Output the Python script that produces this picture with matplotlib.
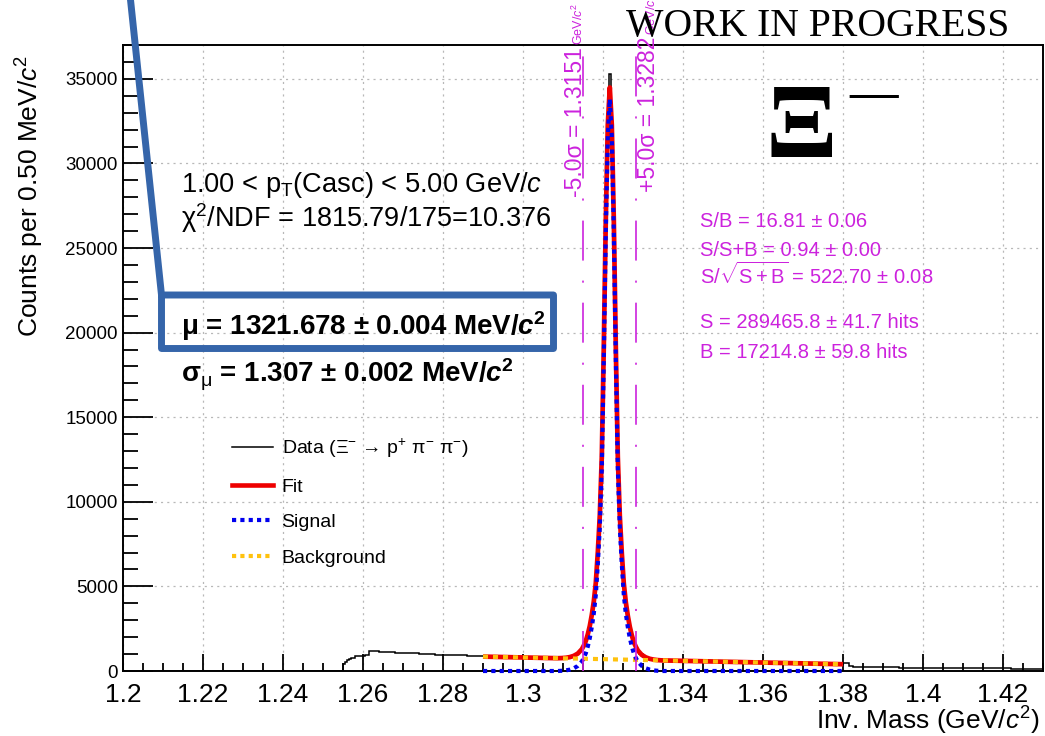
import matplotlib
matplotlib.use("Agg")
import matplotlib.pyplot as plt
from matplotlib.lines import Line2D
import numpy as np

# ---------------- data ----------------
# data histogram: variable-width bin edges (GeV) and counts
data_edges = [1.2000, 1.2550, 1.2555, 1.2560, 1.2565, 1.2570, 1.2580, 1.2590, 1.2600, 1.2605,
              1.2615, 1.2620, 1.2640, 1.2660, 1.2680, 1.2700, 1.2720, 1.2740, 1.2760, 1.2780,
              1.2800, 1.2820, 1.2840, 1.2860, 1.2880, 1.2900,
              1.2920, 1.2940, 1.2960, 1.2980, 1.3000, 1.3020, 1.3040, 1.3060, 1.3080, 1.3100,
              1.3105, 1.3110, 1.3115, 1.3120, 1.3125, 1.3130, 1.3135, 1.3140, 1.3145, 1.3150,
              1.3155, 1.3160, 1.3165, 1.3170, 1.3175, 1.3180, 1.3185, 1.3190, 1.3195, 1.3200,
              1.3205, 1.3210, 1.3215, 1.3220, 1.3225, 1.3230, 1.3235, 1.3240, 1.3245, 1.3250,
              1.3255, 1.3260, 1.3265, 1.3270, 1.3275, 1.3280, 1.3285, 1.3290,
              1.3300, 1.3310, 1.3320, 1.3330, 1.3340,
              1.3360, 1.3380, 1.3400, 1.3420, 1.3440, 1.3460, 1.3480, 1.3500, 1.3520, 1.3540,
              1.3560, 1.3580, 1.3600, 1.3620, 1.3640, 1.3660, 1.3680, 1.3700, 1.3720, 1.3740,
              1.3760, 1.3780, 1.3800,
              1.3815, 1.3825, 1.3860, 1.3900, 1.3940, 1.3980, 1.4020, 1.4060, 1.4100, 1.4140,
              1.4180, 1.4220, 1.4260, 1.4300]
data_counts = [0, 430, 550, 640, 720, 760, 860, 900, 860, 930,
               1180, 1200, 1150, 1140, 1090, 1075, 1040, 1020, 985, 975,
               950, 945, 930, 910, 880,
               860, 835, 842, 820, 808, 798, 790, 782, 768, 775,
               790, 800, 820, 840, 870, 910, 975, 1050, 1170, 1320,
               1540, 1830, 2230, 2750, 3420, 4270, 5420, 7300, 9700, 13500,
               20200, 27400, 32900, 35300, 31900, 25900, 18500, 12300, 8900, 6780,
               5030, 3980, 3180, 2560, 2080, 1690, 1420, 1210,
               1000, 840, 745, 690, 660,
               640, 628, 615, 605, 598, 582, 575, 560, 548, 545,
               530, 518, 510, 495, 488, 480, 468, 455, 448, 438,
               425, 418, 405,
               480, 300, 250, 225, 215, 205, 200, 185, 175, 165,
               160, 150, 145, 140]

# fit curves (GeV, counts)
curve_x = [1.2900, 1.3000, 1.3067, 1.3087, 1.3097, 1.3107, 1.3117, 1.3127, 1.3137, 1.3147,
           1.3152, 1.3157, 1.3162, 1.3167, 1.3172, 1.3177, 1.3182, 1.3187, 1.3192, 1.3197,
           1.3202, 1.3207, 1.3212, 1.3217, 1.3222, 1.3227, 1.3232, 1.3237, 1.3242, 1.3247,
           1.3252, 1.3257, 1.3262, 1.3267, 1.3272, 1.3277, 1.3282, 1.3287, 1.3297, 1.3307,
           1.3317, 1.3327, 1.3337, 1.3347, 1.3400, 1.3500, 1.3600, 1.3700, 1.3800]
signal_y = [0, 0, 0, 0, 12, 35, 80, 160, 300, 560,
            780, 1050, 1450, 1950, 2600, 3400, 4500, 6300, 8500, 12000,
            18500, 26000, 31600, 33800, 31600, 26000, 18500, 12000, 8500, 6300,
            4500, 3400, 2600, 1950, 1450, 1050, 780, 560, 300, 160,
            80, 35, 12, 0, 0, 0, 0, 0, 0]
fit_y = [850, 800, 766, 756, 764, 781, 821, 896, 1031, 1286,
         1504, 1771, 2169, 2666, 3314, 4111, 5209, 7006, 9204, 12701,
         19199, 26696, 32294, 34491, 32289, 26686, 19184, 12681, 9179, 6976,
         5174, 4071, 3269, 2616, 2114, 1711, 1439, 1216, 951, 806,
         721, 671, 643, 626, 600, 550, 500, 450, 400]
bg_x = [1.29, 1.30, 1.31, 1.32, 1.33, 1.34, 1.35, 1.36, 1.37, 1.38]
bg_y = [850, 800, 750, 700, 650, 600, 550, 500, 450, 400]

# +/- 5 sigma window
win_lo = 1.3151
win_hi = 1.3282

xticks = [1.20, 1.22, 1.24, 1.26, 1.28, 1.30, 1.32, 1.34, 1.36, 1.38, 1.40, 1.42]
xtick_labels = ["1.2", "1.22", "1.24", "1.26", "1.28", "1.3", "1.32", "1.34", "1.36", "1.38", "1.4", "1.42"]
yticks = [0, 5000, 10000, 15000, 20000, 25000, 30000, 35000]
ytick_labels = ["0", "5000", "10000", "15000", "20000", "25000", "30000", "35000"]

# ---------------- style ----------------
plt.rcParams['font.family'] = ['Liberation Sans', 'DejaVu Sans']
plt.rcParams['mathtext.fontset'] = 'custom'
plt.rcParams['mathtext.rm'] = 'Liberation Sans'
plt.rcParams['mathtext.sf'] = 'Liberation Sans'
plt.rcParams['mathtext.it'] = 'Liberation Sans:italic'
plt.rcParams['mathtext.bf'] = 'Liberation Sans:bold'
plt.rcParams['mathtext.bfit'] = 'Liberation Sans:italic:bold'
plt.rcParams['lines.scale_dashes'] = False

W, H = 1045, 736
def fx(px):
    return px / W
def fy(py):
    return 1 - py / H

MAG = '#cc22dd'
RED = '#ee0000'
BLUE = '#0000ee'
YEL = '#ffc20e'
BOXBLUE = '#3565aa'

fig = plt.figure(figsize=(W / 100, H / 100), dpi=100)
ax = fig.add_axes([fx(123), fy(671), (1043 - 123) / W, (671 - 45) / H])
ax.set_xlim(1.2, 1.43)
ax.set_ylim(0, 37000)

ax.set_axisbelow(True)
ax.grid(True, which='major', color='#b8b8b8', lw=0.9, linestyle=(0, (1.5, 3.0)))

# data
ax.stairs(data_counts, data_edges, color='black', lw=1.1, baseline=0, zorder=2)
# fit
ax.plot(curve_x, fit_y, color=RED, lw=3.4, zorder=3, solid_capstyle='butt')
ax.plot(bg_x, bg_y, color=YEL, lw=3.0, dashes=(3.6, 3.6), zorder=4)
ax.plot(curve_x, signal_y, color=BLUE, lw=3.0, dashes=(3.0, 3.0), zorder=5, clip_on=False)

# window lines
for xv in (win_lo, win_hi):
    ax.axvline(xv, color=MAG, lw=1.2, dashes=(28.8, 14.4, 1.5, 14.4), zorder=6)

# window labels: main part + small unit part
x_lo_px = ax.transData.transform((win_lo, 0))[0]
x_hi_px = ax.transData.transform((win_hi, 0))[0]
win_labels = [("-5.0σ = 1.3151", x_lo_px - 1.5, 197), ("+5.0σ = 1.3282", x_hi_px + 19.5, 192)]
renderer = fig.canvas.get_renderer()
for txt, xb, ystart in win_labels:
    t = fig.text(xb / W, fy(ystart), txt, rotation=90, rotation_mode='anchor', ha='left',
                 va='baseline', color=MAG, fontsize=16.5)
    bb = t.get_window_extent(renderer)
    fig.text((xb + 1) / W, (bb.y1 + 2) / H, "GeV/$\\mathit{c}^{2}$", rotation=90,
             rotation_mode='anchor', ha='left', va='baseline', color=MAG, fontsize=9)

# ticks
ax.set_xticks(xticks)
ax.set_xticklabels(xtick_labels)
ax.set_yticks(yticks)
ax.set_yticklabels(ytick_labels)
ax.set_xticks(np.arange(1.2, 1.4301, 0.005), minor=True)
ax.set_yticks(np.arange(0, 37001, 1000), minor=True)
ax.tick_params(axis='x', which='major', direction='in', length=12, width=1.3, labelsize=19, pad=8.5)
ax.tick_params(axis='x', which='minor', direction='in', length=5.8, width=1.3)
ax.tick_params(axis='y', which='major', direction='in', length=21.6, width=1.3, labelsize=13.5, pad=3.6)
ax.tick_params(axis='y', which='minor', direction='in', length=10.8, width=1.3)
ax.tick_params(top=False, right=False, which='both')
for s in ax.spines.values():
    s.set_linewidth(1.4)

ax.set_xlabel("Inv. Mass (GeV/$\\mathit{c}^{2}$)", fontsize=19, ha='right', va='top')
ax.xaxis.set_label_coords((1040 - 123) / 920, (671 - 705) / 626)
ax.set_ylabel("Counts per 0.50 MeV/$\\mathit{c}^{2}$", fontsize=19, rotation=90,
              rotation_mode='default', ha='right', va='top')
ax.yaxis.set_label_coords((46 - 123) / 920, (671 - 55) / 626)

# legend
handles = [Line2D([], [], color='black', lw=1.1),
           Line2D([], [], color=RED, lw=3.3),
           Line2D([], [], color=BLUE, lw=3.0, dashes=(3.0, 3.0)),
           Line2D([], [], color=YEL, lw=3.0, dashes=(3.0, 3.0))]
labels = ["Data (Ξ$^{-}$ → p$^{+}$ π$^{-}$ π$^{-}$)", "Fit", "Signal", "Background"]
ax.legend(handles, labels, loc='upper left', bbox_to_anchor=(fx(232), fy(437)),
          bbox_transform=fig.transFigure, frameon=False, fontsize=14, borderpad=0,
          borderaxespad=0, handlelength=2.1, handletextpad=0.45, labelspacing=0.92)

# text blocks
fig.text(fx(181), fy(192), "1.00 < p$_{\\mathrm{T}}$(Casc) < 5.00 GeV/$\\mathit{c}$", fontsize=19.6, va='baseline')
fig.text(fx(181), fy(227), "χ$^{2}$/NDF = 1815.79/175=10.376", fontsize=19.5, va='baseline')
fig.text(fx(181), fy(335), "μ = 1321.678 ± 0.004 MeV/$\\boldsymbol{c}^{\\mathbf{2}}$", fontsize=20,
         weight='bold', va='baseline')
fig.text(fx(181), fy(383), "σ$_{\\mathrm{μ}}$ = 1.307 ± 0.002 MeV/$\\boldsymbol{c}^{\\mathbf{2}}$", fontsize=20,
         weight='bold', va='baseline')

mag_lines = [("S/B = 16.81 ± 0.06", 227),
             ("S/S+B = 0.94 ± 0.00", 256),
             ("S/$\\sqrt{\\mathrm{S+B}}$ = 522.70 ± 0.08", 284),
             ("S = 289465.8 ± 41.7 hits", 328),
             ("B = 17214.8 ± 59.8 hits", 358)]
for txt, yb in mag_lines:
    fig.text(fx(700), fy(yb), txt, fontsize=14.5, color=MAG, va='baseline')

fig.text(fx(818), fy(36), "WORK IN PROGRESS", family='Liberation Serif', fontsize=28.5,
         ha='center', va='baseline')
fig.text(fx(801), fy(157), "Ξ", family='Liberation Serif', weight='bold', fontsize=76,
         ha='center', va='baseline')
fig.text(fx(874), fy(108), "—", family='Liberation Serif', weight='bold', fontsize=35,
         ha='center', va='baseline')

# highlight box with pointer line
px = [130, 161.5, 553.5, 553.5, 161.5, 161.5]
py = [-5, 295, 295, 348.5, 348.5, 295]
fig.add_artist(Line2D([fx(p) for p in px], [fy(p) for p in py], transform=fig.transFigure,
                      color=BOXBLUE, lw=5, solid_joinstyle='round', solid_capstyle='round', zorder=20))

fig.savefig("out.png", dpi=100)
